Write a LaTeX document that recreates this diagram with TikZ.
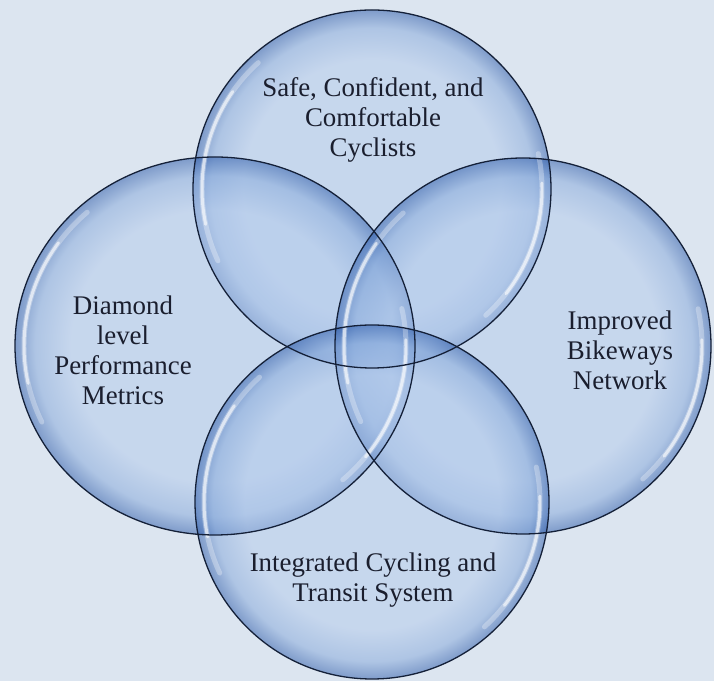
\documentclass[tikz,border=0pt]{standalone}
\usepackage{fontspec}
\setmainfont{Liberation Serif}
\usepackage{xcolor}
\definecolor{bgblue}{RGB}{220,229,240}
\definecolor{bubin}{RGB}{178,202,236}
\definecolor{bubmid}{RGB}{130,166,218}
\definecolor{bubout}{RGB}{36,84,166}
\definecolor{inktext}{RGB}{26,30,46}
\definecolor{rimline}{RGB}{20,32,56}
\pgfdeclareradialshading{bubble}{\pgfpoint{0bp}{0bp}}{color(0bp)=(bubin); color(18bp)=(bubin); color(22.5bp)=(bubmid); color(25bp)=(bubout); color(50bp)=(bubout)}

\begin{document}
\begin{tikzpicture}[x=1bp,y=1bp,
  bubbletext/.style={text=inktext, align=center, font=\fontsize{27}{30}\selectfont},
  rim/.style={draw=rimline, line width=1.3},
  gleam/.style={draw=white, line cap=round}]
\fill[bgblue] (0,0) rectangle (714,681);
\useasboundingbox (0,0) rectangle (714,681);
% the four bubbles: top, left, right, bottom
\foreach \cx/\cy/\rx/\ry in {372/492/179/179, 215/335/200/189, 523/335/188/188, 372/179/177/177}{
  \shade[shading=bubble, fill opacity=0.5] (\cx,\cy) ellipse[x radius=\rx, y radius=\ry];
}
% glassy highlights
\foreach \cx/\cy/\rx/\ry [evaluate=\rx as \gx using \rx-9, evaluate=\ry as \gy using \ry-9] in {372/492/179/179, 215/335/200/189, 523/335/188/188, 372/179/177/177}{
  \draw[gleam, line width=5, opacity=0.3] (\cx,\cy) ++({\gx*cos(132)},{\gy*sin(132)}) arc[start angle=132, end angle=205, x radius=\gx, y radius=\gy];
  \draw[gleam, line width=3, opacity=0.6] (\cx,\cy) ++({\gx*cos(145)},{\gy*sin(145)}) arc[start angle=145, end angle=192, x radius=\gx, y radius=\gy];
  \draw[gleam, line width=5, opacity=0.3] (\cx,\cy) ++({\gx*cos(-48)},{\gy*sin(-48)}) arc[start angle=-48, end angle=12, x radius=\gx, y radius=\gy];
  \draw[gleam, line width=3, opacity=0.6] (\cx,\cy) ++({\gx*cos(-38)},{\gy*sin(-38)}) arc[start angle=-38, end angle=2, x radius=\gx, y radius=\gy];
}
\foreach \cx/\cy/\rx/\ry in {372/492/179/179, 215/335/200/189, 523/335/188/188, 372/179/177/177}{
  \draw[rim] (\cx,\cy) ellipse[x radius=\rx, y radius=\ry];
}
\node[bubbletext] (safe) at (373,561) {Safe, Confident, and\\Comfortable\\Cyclists};
\node[bubbletext] (metrics) at (123,331) {Diamond\\level\\Performance\\Metrics};
\node[bubbletext] (network) at (620,331) {Improved\\Bikeways\\Network};
\node[bubbletext] (transit) at (373,101) {Integrated Cycling and\\Transit System};
\end{tikzpicture}
\end{document}
